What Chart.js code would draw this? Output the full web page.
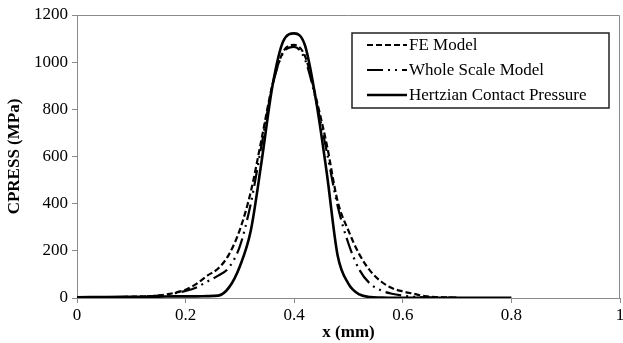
<!DOCTYPE html>
<html>
<head>
<meta charset="utf-8">
<script src="https://cdn.jsdelivr.net/npm/chart.js@4"></script>
<style>
  html, body { margin: 0; padding: 0; background: #fff; }
  #wrap { width: 623px; height: 343px; }
</style>
</head>
<body>
<div id="wrap"><canvas id="cpressChart"></canvas></div>
<script>
// contact pressure along x (mm)
const xValues = [0, 0.05, 0.1, 0.15, 0.18, 0.2, 0.22, 0.24, 0.26, 0.28, 0.3, 0.32, 0.34, 0.36, 0.38, 0.4,
  0.42, 0.44, 0.46, 0.48, 0.5, 0.52, 0.54, 0.56, 0.58, 0.6, 0.62, 0.64, 0.66, 0.7, 0.75, 0.8];
const feModel = [2, 3, 5, 10, 22, 35, 60, 95, 125, 185, 290, 450, 675, 905, 1045, 1073,
  1025, 850, 650, 410, 285, 185, 115, 70, 42, 28, 18, 8, 4, 2, null, null];
const wholeScale = [2, 3, 5, 10, 20, 30, 45, 70, 95, 130, 220, 400, 650, 900, 1040, 1065,
  1010, 840, 620, 390, 230, 120, 60, 32, 18, 10, 5, 3, 2, 1, null, null];
const hertzian = [3, 4, 5, 6, 7, 7, 7, 8, 10, 45, 135, 285, 580, 900, 1090, 1122,
  1070, 840, 530, 180, 60, 15, 4, 2, 1, 1, 1, 1, 1, 1, 1, 1];
const xTicks = [0, 0.2, 0.4, 0.6, 0.8, 1];
const yTicks = [0, 200, 400, 600, 800, 1000, 1200];

const toPoints = ys => xValues.map((x, i) => ({ x: x, y: ys[i] }));
const serif = '"Liberation Serif", "Times New Roman", serif';
const axisGray = '#8a8a8a';

// framed legend drawn inside the plot, plus the box around the plot area
const boxedLegend = {
  id: 'boxedLegend',
  beforeDatasetsDraw(chart) {
    const { ctx, chartArea: a } = chart;
    ctx.save();
    ctx.strokeStyle = axisGray;
    ctx.lineWidth = 1;
    ctx.beginPath();
    ctx.moveTo(a.left, a.top + 0.5);
    ctx.lineTo(a.right - 0.5, a.top + 0.5);
    ctx.lineTo(a.right - 0.5, a.bottom);
    ctx.stroke();
    ctx.restore();
  },
  afterDatasetsDraw(chart) {
    const { ctx, chartArea: a } = chart;
    const left = a.right - 268, top = a.top + 18, w = 257, h = 75;
    ctx.save();
    ctx.fillStyle = '#fff';
    ctx.fillRect(left, top, w, h);
    ctx.strokeStyle = '#222';
    ctx.lineWidth = 1.5;
    ctx.strokeRect(left, top, w, h);
    ctx.font = '17px ' + serif;
    ctx.textBaseline = 'middle';
    chart.data.datasets.forEach((ds, i) => {
      const y = top + 12 + i * 25;
      ctx.strokeStyle = ds.borderColor;
      ctx.lineWidth = ds.borderWidth;
      ctx.setLineDash(ds.borderDash || []);
      ctx.beginPath();
      ctx.moveTo(left + 15, y);
      ctx.lineTo(left + 55, y);
      ctx.stroke();
      ctx.setLineDash([]);
      ctx.fillStyle = '#000';
      ctx.fillText(ds.label, left + 57, y + 1);
    });
    ctx.restore();
  }
};

new Chart(document.getElementById('cpressChart'), {
  type: 'line',
  data: {
    datasets: [{
      label: 'FE Model',
      data: toPoints(feModel),
      borderColor: '#000',
      borderWidth: 2.2,
      borderDash: [6, 3]
    }, {
      label: 'Whole Scale Model',
      data: toPoints(wholeScale),
      borderColor: '#000',
      borderWidth: 2.2,
      borderDash: [16, 5, 2, 5, 2, 5]
    }, {
      label: 'Hertzian Contact Pressure',
      data: toPoints(hertzian),
      borderColor: '#000',
      borderWidth: 2.6
    }]
  },
  options: {
    responsive: true,
    maintainAspectRatio: false,
    animation: false,
    layout: { padding: { top: 15, right: 3, left: 0, bottom: 0 } },
    elements: {
      point: { radius: 0 },
      line: { cubicInterpolationMode: 'monotone', fill: false }
    },
    plugins: {
      legend: { display: false },
      tooltip: { enabled: false }
    },
    scales: {
      x: {
        type: 'linear',
        min: 0,
        max: 1,
        afterBuildTicks: s => { s.ticks = xTicks.map(v => ({ value: v })); },
        afterFit: s => { s.height = 45; s.paddingLeft = 0; s.paddingRight = 0; },
        grid: { drawOnChartArea: false, color: axisGray, tickLength: 5 },
        border: { color: axisGray, width: 1 },
        ticks: {
          color: '#000',
          font: { family: serif, size: 17 },
          padding: 2,
          maxRotation: 0,
          callback: v => String(v)
        },
        title: {
          display: true,
          text: 'x (mm)',
          color: '#000',
          font: { family: serif, size: 17, weight: 'bold' },
          padding: { top: 0, bottom: 0 }
        }
      },
      y: {
        min: 0,
        max: 1200,
        afterBuildTicks: s => { s.ticks = yTicks.map(v => ({ value: v })); },
        afterFit: s => { s.width = 77; },
        grid: { drawOnChartArea: false, color: axisGray, tickLength: 5 },
        border: { color: axisGray, width: 1 },
        ticks: {
          color: '#000',
          font: { family: serif, size: 17 },
          padding: 4,
          callback: v => String(v)
        },
        title: {
          display: true,
          text: 'CPRESS (MPa)',
          color: '#000',
          font: { family: serif, size: 17, weight: 'bold' },
          padding: { top: 4, bottom: 0 }
        }
      }
    }
  },
  plugins: [boxedLegend]
});
</script>
</body>
</html>
